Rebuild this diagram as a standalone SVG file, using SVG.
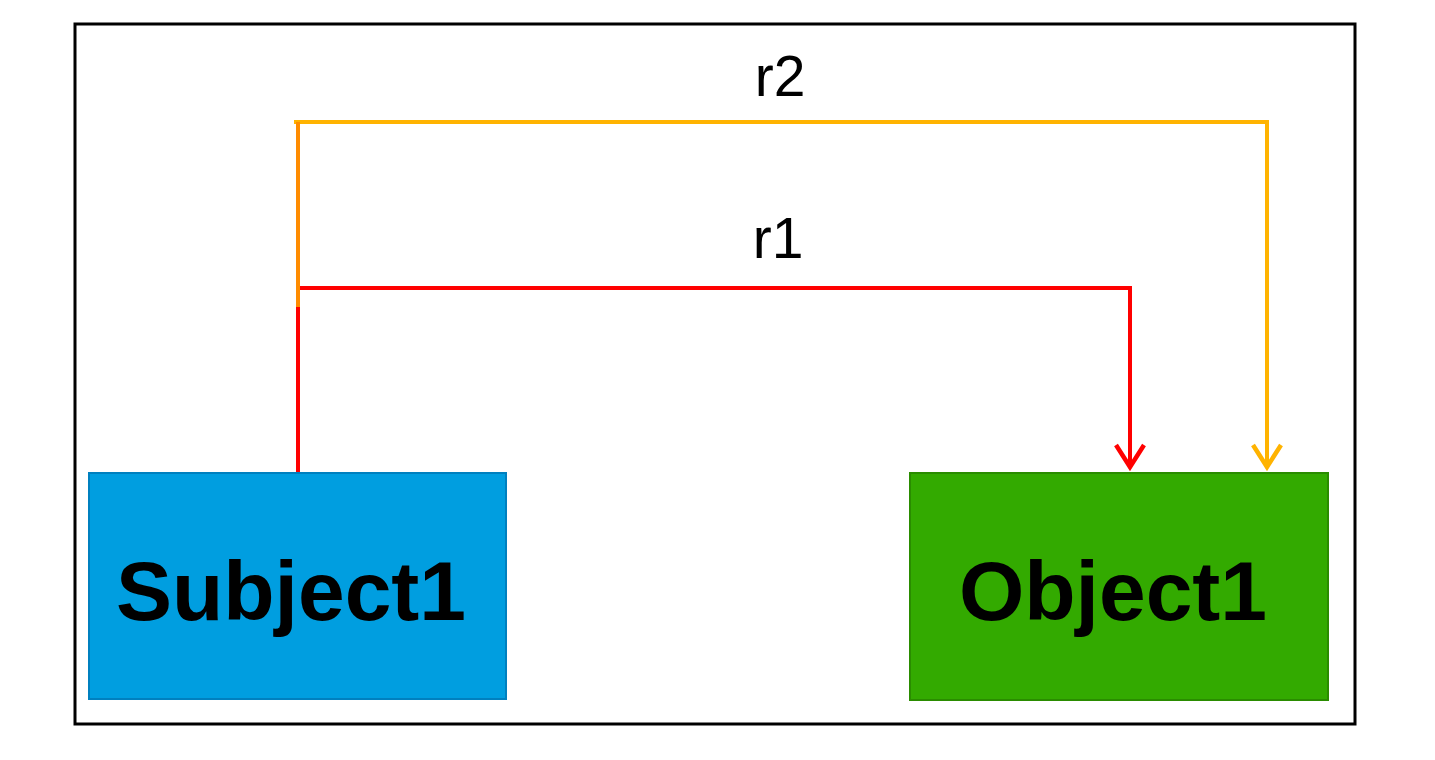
<svg xmlns="http://www.w3.org/2000/svg" width="1435" height="760" viewBox="0 0 1435 760">
<defs>
<style>
.lbl{font-family:"Liberation Sans",Arial,sans-serif;font-size:57px;fill:#000;text-anchor:middle}
.nlbl{font-family:"Liberation Sans",Arial,sans-serif;font-size:84px;font-weight:bold;fill:#000;text-anchor:middle}
.edge{fill:none;stroke-width:4;stroke-linecap:square}
.head{fill:none;stroke-width:4.5;stroke-linejoin:miter}
</style>
</defs>
<rect x="0" y="0" width="1435" height="760" fill="#ffffff"/>
<rect x="75" y="24" width="1280" height="700" fill="#ffffff" stroke="#000000" stroke-width="3"/>
<g id="connectors">
<path class="edge" d="M298,470 L298,288 L1130,288 L1130,466" stroke="#ff0000"/>
<path class="head" d="M1116,445 L1130,467 L1144,445" stroke="#ff0000"/>
<path class="edge" d="M296,122 L1267,122 L1267,466" stroke="#ffb300"/>
<path class="head" d="M1253,445 L1267,467 L1281,445" stroke="#ffb300"/>
<path d="M298,122 L298,307" fill="none" stroke="#ff8c00" stroke-width="4"/>
<text class="lbl" x="780" y="96">r2</text>
<text class="lbl" x="778" y="258">r1</text>
</g>
<g id="Subject1">
<rect x="89" y="473" width="417" height="226" fill="#009ee0" stroke="#0080bf" stroke-width="2"/>
<text class="nlbl" x="291" y="620">Subject1</text>
</g>
<g id="Object1">
<rect x="910" y="473" width="418" height="227" fill="#33aa00" stroke="#2a8c00" stroke-width="2"/>
<text class="nlbl" x="1113" y="620">Object1</text>
</g>
</svg>
